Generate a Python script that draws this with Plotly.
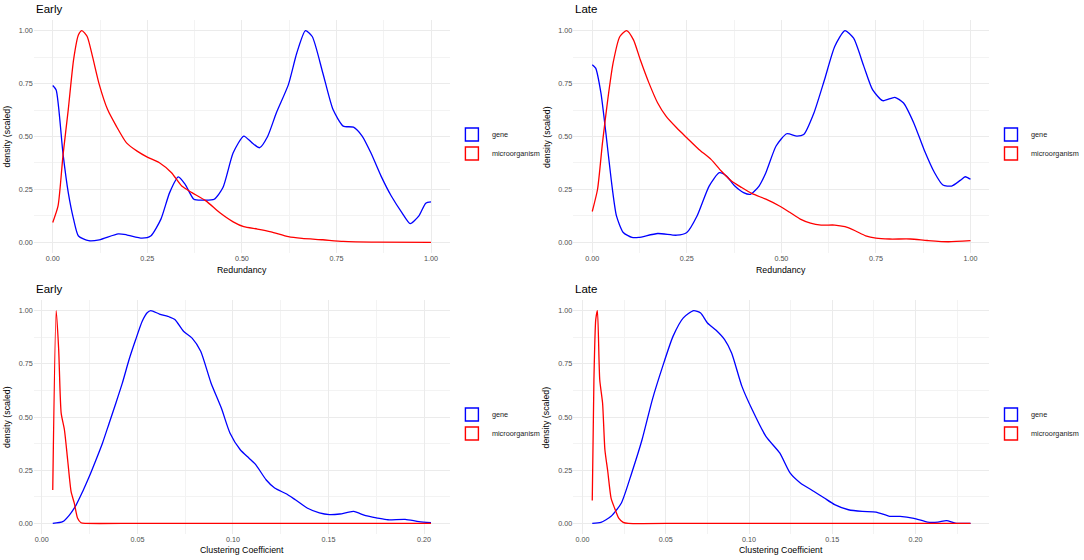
import plotly.graph_objects as go
from plotly.subplots import make_subplots

# ---- data (density, scaled to max 1) ----
# Early / Redundancy
early_red_gene_x = [0.0, 0.009, 0.027, 0.041, 0.055, 0.068, 0.095, 0.123, 0.173, 0.195, 0.236, 0.259,
                    0.286, 0.309, 0.332, 0.35, 0.373, 0.395, 0.427, 0.45, 0.477, 0.505, 0.527, 0.547,
                    0.568, 0.591, 0.623, 0.645, 0.668, 0.686, 0.714, 0.741, 0.768, 0.795, 0.818, 0.841,
                    0.868, 0.895, 0.923, 0.945, 0.968, 0.986, 1.0]
early_red_gene_y = [0.741, 0.72, 0.42, 0.235, 0.11, 0.03, 0.008, 0.012, 0.04, 0.036, 0.02, 0.03,
                    0.11, 0.235, 0.309, 0.274, 0.204, 0.2, 0.204, 0.259, 0.423, 0.502, 0.47, 0.447,
                    0.50, 0.611, 0.745, 0.893, 1.0, 0.972, 0.80, 0.627, 0.549, 0.544, 0.502, 0.423,
                    0.313, 0.219, 0.141, 0.089, 0.125, 0.185, 0.191]
early_red_micro_x = [0.0, 0.014, 0.027, 0.041, 0.055, 0.068, 0.077, 0.091, 0.105, 0.123, 0.145, 0.168,
                     0.195, 0.223, 0.25, 0.282, 0.314, 0.341, 0.368, 0.405, 0.441, 0.477, 0.505, 0.541,
                     0.577, 0.623, 0.659, 0.714, 0.768, 0.859, 1.0]
early_red_micro_y = [0.094, 0.172, 0.41, 0.627, 0.862, 0.98, 1.0, 0.972, 0.878, 0.745, 0.627, 0.549,
                     0.47, 0.431, 0.403, 0.376, 0.329, 0.266, 0.235, 0.196, 0.141, 0.097, 0.074, 0.063,
                     0.05, 0.027, 0.019, 0.0125, 0.005, 0.0015, 0.0]

# Late / Redundancy
late_red_gene_x = [0.0, 0.009, 0.023, 0.036, 0.05, 0.064, 0.082, 0.105, 0.123, 0.173, 0.223, 0.25,
                   0.277, 0.309, 0.336, 0.355, 0.377, 0.4, 0.418, 0.441, 0.459, 0.486, 0.514, 0.541,
                   0.559, 0.586, 0.614, 0.641, 0.668, 0.691, 0.718, 0.741, 0.768, 0.8, 0.823, 0.85,
                   0.877, 0.905, 0.927, 0.95, 0.973, 0.986, 1.0]
late_red_gene_y = [0.839, 0.823, 0.705, 0.517, 0.298, 0.125, 0.047, 0.0235, 0.0235, 0.042, 0.034, 0.047,
                   0.125, 0.266, 0.329, 0.313, 0.266, 0.235, 0.227, 0.266, 0.329, 0.455, 0.513, 0.502,
                   0.509, 0.611, 0.768, 0.925, 1.0, 0.964, 0.831, 0.721, 0.669, 0.685, 0.658, 0.564,
                   0.439, 0.329, 0.271, 0.266, 0.293, 0.31, 0.298]
late_red_micro_x = [0.0, 0.014, 0.027, 0.041, 0.055, 0.073, 0.091, 0.109, 0.127, 0.15, 0.173, 0.195,
                    0.223, 0.25, 0.282, 0.314, 0.341, 0.368, 0.395, 0.423, 0.459, 0.495, 0.523, 0.55,
                    0.577, 0.605, 0.641, 0.668, 0.695, 0.723, 0.75, 0.786, 0.841, 0.886, 0.941, 1.0]
late_red_micro_y = [0.146, 0.251, 0.47, 0.674, 0.846, 0.972, 1.0, 0.956, 0.862, 0.752, 0.658, 0.596,
                    0.541, 0.494, 0.439, 0.392, 0.337, 0.29, 0.259, 0.23, 0.204, 0.172, 0.141, 0.11,
                    0.091, 0.082, 0.082, 0.074, 0.055, 0.031, 0.02, 0.016, 0.016, 0.009, 0.003, 0.008]

# Early / Clustering Coefficient
early_cc_gene_x = [0.0057, 0.0109, 0.0144, 0.0179, 0.0213, 0.0248, 0.0283, 0.0317, 0.0352, 0.0387,
                   0.0421, 0.0456, 0.0491, 0.0525, 0.0551, 0.057, 0.0615, 0.0669, 0.0696, 0.0741,
                   0.0786, 0.0831, 0.0885, 0.0939, 0.0984, 0.1038, 0.1083, 0.1119, 0.1173, 0.1218,
                   0.1281, 0.1326, 0.1388, 0.1452, 0.1505, 0.1559, 0.1631, 0.1694, 0.1757, 0.1811,
                   0.1901, 0.1973, 0.2036]
early_cc_gene_y = [0.0, 0.008, 0.039, 0.086, 0.149, 0.22, 0.298, 0.377, 0.471, 0.565,
                   0.659, 0.769, 0.864, 0.95, 0.99, 1.0, 0.984, 0.97, 0.958, 0.903,
                   0.871, 0.809, 0.66, 0.542, 0.425, 0.346, 0.307, 0.276, 0.205, 0.166,
                   0.138, 0.111, 0.072, 0.049, 0.041, 0.044, 0.056, 0.036, 0.025, 0.017,
                   0.019, 0.008, 0.003]
early_cc_micro_x = [0.0057, 0.0075, 0.0088, 0.0101, 0.0118, 0.0135, 0.0153, 0.017, 0.0187, 0.0205,
                    0.023, 0.05, 0.1, 0.15, 0.2036]
early_cc_micro_y = [0.157, 1.0, 0.817, 0.518, 0.44, 0.298, 0.149, 0.094, 0.024, 0.003,
                    0.0, 0.0, 0.0, 0.0, 0.0]

# Late / Clustering Coefficient
late_cc_gene_x = [0.0058, 0.011, 0.0171, 0.0233, 0.0295, 0.0357, 0.0419, 0.0481, 0.0543, 0.0605,
                  0.0667, 0.0709, 0.075, 0.0802, 0.0853, 0.0895, 0.0957, 0.1019, 0.1101, 0.1184,
                  0.1246, 0.1308, 0.139, 0.1452, 0.1514, 0.1597, 0.168, 0.1763, 0.1845, 0.1907,
                  0.199, 0.2072, 0.2134, 0.2186, 0.2238, 0.233]
late_cc_gene_y = [0.0, 0.005, 0.033, 0.096, 0.237, 0.393, 0.582, 0.738, 0.879, 0.966,
                  1.0, 0.989, 0.942, 0.908, 0.864, 0.801, 0.644, 0.534, 0.409, 0.331,
                  0.237, 0.19, 0.15, 0.119, 0.088, 0.064, 0.056, 0.053, 0.033, 0.033,
                  0.0235, 0.006, 0.006, 0.0125, 0.0015, 0.0]
late_cc_micro_x = [0.0058, 0.0068, 0.0079, 0.0089, 0.0103, 0.012, 0.0134, 0.0151, 0.0171, 0.0192,
                   0.0217, 0.0244, 0.0275, 0.06, 0.12, 0.18, 0.233]
late_cc_micro_y = [0.108, 0.675, 0.958, 1.0, 0.675, 0.566, 0.346, 0.245, 0.119, 0.072,
                   0.025, 0.005, 0.0, 0.0, 0.0, 0.0, 0.0]

panels = [
    ("Early", "Redundancy", early_red_gene_x, early_red_gene_y, early_red_micro_x, early_red_micro_y, 0.25),
    ("Late", "Redundancy", late_red_gene_x, late_red_gene_y, late_red_micro_x, late_red_micro_y, 0.25),
    ("Early", "Clustering Coefficient", early_cc_gene_x, early_cc_gene_y, early_cc_micro_x, early_cc_micro_y, 0.05),
    ("Late", "Clustering Coefficient", late_cc_gene_x, late_cc_gene_y, late_cc_micro_x, late_cc_micro_y, 0.05),
]

GENE = "#0000FF"
MICRO = "#FF0000"
FONT = "Liberation Sans"
W, H = 1084, 560

# pixel boxes of each plotting panel (left, right, top, bottom)
boxes = [(34, 452, 20, 253), (576, 994, 20, 253), (34, 452, 300, 534), (576, 994, 300, 534)]

fig = make_subplots(rows=2, cols=2)
annotations = []

for i, (title, xtitle, gx, gy, mx, my, dt) in enumerate(panels):
    row, col = i // 2 + 1, i % 2 + 1
    leg = "legend" if i == 0 else f"legend{i + 1}"
    fig.add_trace(go.Scatter(x=gx, y=gy, mode="lines", line=dict(color=GENE, width=1.3, shape="spline", smoothing=0.6),
                             showlegend=False, hoverinfo="skip"), row=row, col=col)
    fig.add_trace(go.Scatter(x=mx, y=my, mode="lines", line=dict(color=MICRO, width=1.3, shape="spline", smoothing=0.6),
                             showlegend=False, hoverinfo="skip"), row=row, col=col)
    # legend keys: outlined squares like ggplot's density keys
    for name, c in (("gene", GENE), ("microorganism", MICRO)):
        fig.add_trace(go.Scatter(x=[None], y=[None], mode="markers", name=name, legend=leg,
                                 marker=dict(symbol="square-open", size=13, color=c, line=dict(width=1.4, color=c))),
                      row=row, col=col)

    l, r, t, b = boxes[i]
    xmin, xmax = min(gx + mx), max(gx + mx)
    pad = 0.05 * (xmax - xmin)
    xa = "xaxis" if i == 0 else f"xaxis{i + 1}"
    ya = "yaxis" if i == 0 else f"yaxis{i + 1}"
    fig.layout[xa].update(domain=[l / W, r / W], range=[xmin - pad, xmax + pad], dtick=dt, tick0=0,
                          tickformat=".2f", showgrid=True, gridcolor="#EBEBEB", gridwidth=1, zeroline=False,
                          showline=False, ticks="", automargin=False,
                          tickfont=dict(size=7.2, color="#4D4D4D", family=FONT),
                          minor=dict(dtick=dt / 2, tick0=0, showgrid=True, gridcolor="#F3F3F3", gridwidth=0.7))
    fig.layout[ya].update(domain=[1 - b / H, 1 - t / H], range=[-0.05, 1.05], dtick=0.25, tick0=0,
                          tickformat=".2f", showgrid=True, gridcolor="#EBEBEB", gridwidth=1, zeroline=False,
                          showline=False, ticks="", automargin=False,
                          tickfont=dict(size=7.2, color="#4D4D4D", family=FONT),
                          minor=dict(dtick=0.125, tick0=0, showgrid=True, gridcolor="#F3F3F3", gridwidth=0.7))

    fig.layout[leg] = dict(x=(l + 420) / W, y=1 - (t + 124) / H, xanchor="left", yanchor="middle",
                           font=dict(size=7.3, color="#1A1A1A", family=FONT), itemwidth=30,
                           tracegroupgap=0, bgcolor="rgba(0,0,0,0)", borderwidth=0)

    off = 0 if i < 2 else 280
    xo = 0 if i % 2 == 0 else 542
    annotations.append(dict(text=title, x=(xo + 34) / W, y=1 - (off + 9) / H, xref="paper", yref="paper",
                            xanchor="left", yanchor="middle", showarrow=False,
                            font=dict(size=11.5, color="black", family=FONT)))
    annotations.append(dict(text=xtitle, x=(l + r) / 2 / W, y=1 - (off + 270) / H, xref="paper", yref="paper",
                            xanchor="center", yanchor="middle", showarrow=False,
                            font=dict(size=8.8, color="black", family=FONT)))
    annotations.append(dict(text="density (scaled)", x=(xo + 7) / W, y=1 - (t + b) / 2 / H, xref="paper",
                            yref="paper", xanchor="center", yanchor="middle", showarrow=False, textangle=-90,
                            font=dict(size=8.8, color="black", family=FONT)))

fig.update_layout(width=W, height=H, margin=dict(l=0, r=0, t=0, b=0),
                  plot_bgcolor="white", paper_bgcolor="white",
                  font=dict(family=FONT), annotations=annotations)

# drop the page's default body margin so the figure sits at the window's corner
fig.write_html("out.html", config={"displayModeBar": False},
               post_script="document.body.style.margin = '0';")
